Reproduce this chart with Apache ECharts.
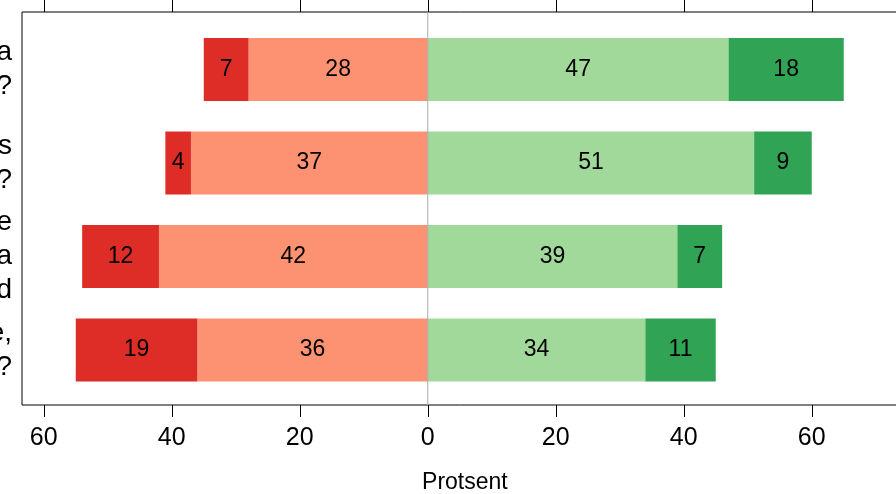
<!DOCTYPE html>
<html>
<head>
<meta charset="utf-8">
<script src="https://cdn.jsdelivr.net/npm/echarts@6/dist/echarts.min.js"></script>
<style>
html,body{margin:0;padding:0;background:#fff;}
#chart{width:896px;height:494px;}
</style>
</head>
<body>
<div id="chart"></div>
<script>
// Visible (clipped) parts of the question labels
var categories = ["a\n?", "s\n?", "e\na\nd", "e,\n?"];
var disagreeStrong = [-7, -4, -12, -19];
var disagree = [-28, -37, -42, -36];
var agree = [47, 51, 39, 34];
var agreeStrong = [18, 9, 7, 11];
var tickValues = [-60, -40, -20, 0, 20, 40, 60];
var zeroLine = [[0, 0], [0, 1]];

var FONT = "'Liberation Sans', Arial, sans-serif";
var XMIN = -63.4, XMAX = 75;

function absFmt(p) { return String(Math.abs(p.value)); }

var barLabel = {
  show: true, position: 'inside', color: '#000', fontSize: 23,
  fontFamily: FONT, formatter: absFmt
};

function barSeries(name, data, color) {
  return {
    name: name, type: 'bar', stack: 'total', xAxisIndex: 2, yAxisIndex: 1,
    data: data, barWidth: 63,
    itemStyle: { color: color },
    label: barLabel, emphasis: { disabled: true }
  };
}

var chart = echarts.init(document.getElementById('chart'), null, { renderer: 'canvas' });
chart.setOption({
  animation: false,
  backgroundColor: '#fff',
  grid: [
    { left: 22, top: 12, width: 885.76, height: 393, show: true, borderColor: '#000', borderWidth: 1,
      backgroundColor: 'transparent', containLabel: false, outerBoundsMode: 'none' },
    { left: 22, top: 22.75, width: 885.76, height: 374, containLabel: false, outerBoundsMode: 'none' }
  ],
  xAxis: [
    {
      gridIndex: 0, type: 'value', position: 'bottom', min: XMIN, max: XMAX,
      axisLine: { show: false },
      axisTick: { show: true, inside: false, length: 12, customValues: tickValues, lineStyle: { color: '#000', width: 1 } },
      axisLabel: { show: true, customValues: tickValues, margin: 21, fontSize: 25, color: '#000', fontFamily: FONT,
        formatter: function (v) { return String(Math.abs(v)); } },
      splitLine: { show: false },
      name: 'Protsent', nameLocation: 'middle', nameGap: 66,
      nameTextStyle: { fontSize: 23, color: '#000', fontFamily: FONT }
    },
    {
      gridIndex: 0, type: 'value', position: 'top', min: XMIN, max: XMAX,
      axisLine: { show: false },
      axisTick: { show: true, inside: false, length: 12, customValues: tickValues, lineStyle: { color: '#000', width: 1 } },
      axisLabel: { show: false },
      splitLine: { show: false }
    },
    {
      gridIndex: 1, type: 'value', min: XMIN, max: XMAX, show: false
    }
  ],
  yAxis: [
    { gridIndex: 0, type: 'value', min: 0, max: 1, show: false },
    {
      gridIndex: 1, type: 'category', inverse: true, data: categories,
      axisLine: { show: false }, axisTick: { show: false }, splitLine: { show: false },
      axisLabel: { show: true, margin: 10, fontSize: 28, lineHeight: 34, color: '#000', fontFamily: FONT, align: 'right' }
    }
  ],
  series: [
    {
      type: 'line', xAxisIndex: 0, yAxisIndex: 0, data: zeroLine, symbol: 'none', silent: true,
      lineStyle: { color: '#aaaaaa', width: 1 }
    },
    barSeries('disagree', disagree, '#FC9272'),
    barSeries('disagreeStrong', disagreeStrong, '#DE2D26'),
    barSeries('agree', agree, '#A1D99B'),
    barSeries('agreeStrong', agreeStrong, '#31A354')
  ]
});
</script>
</body>
</html>
